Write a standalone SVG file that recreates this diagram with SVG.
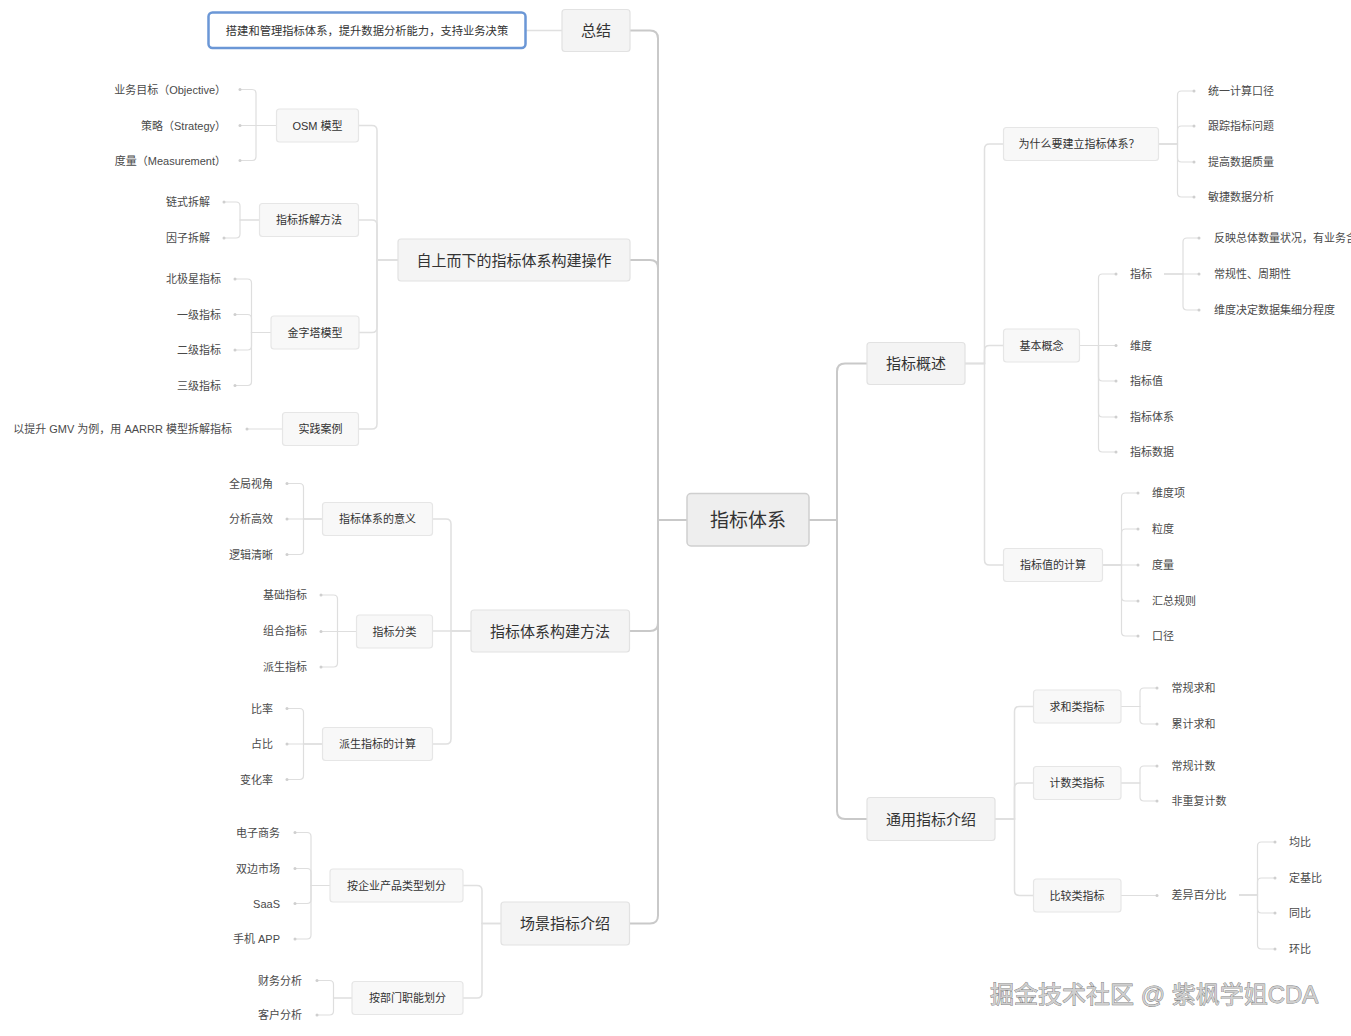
<svg xmlns="http://www.w3.org/2000/svg" width="1351" height="1036" viewBox="0 0 1351 1036">
<defs>
<marker id="dot" markerUnits="userSpaceOnUse" markerWidth="5" markerHeight="5" refX="2.5" refY="2.5"><circle cx="2.5" cy="2.5" r="1.5" fill="#cfcfcf"/></marker>
<style>
text{font-family:"Liberation Sans","Noto Sans CJK SC",sans-serif;dominant-baseline:central}
.trunk{fill:none;stroke:#c9c9c9;stroke-width:2}
.branch{fill:none;stroke:#e0e0e0;stroke-width:1.5}
.leaf{fill:none;stroke:#dedede;stroke-width:1.2;marker-end:url(#dot)}
.root rect{fill:#eeeeee;stroke:#cfcfcf;stroke-width:1.5}
.root text{font-size:19px;fill:#333;text-anchor:middle}
.l1 rect{fill:#f4f4f4;stroke:#e2e2e2;stroke-width:1.2}
.l1 text{font-size:15px;fill:#333;text-anchor:middle}
.l2 rect{fill:#f8f8f8;stroke:#e6e6e6;stroke-width:1.2}
.l2 text{font-size:11px;fill:#333;text-anchor:middle}
.sum rect{fill:#ffffff;stroke:#6b97d6;stroke-width:2.5}
.sum text{font-size:11.3px;fill:#333;text-anchor:middle}
.lfL{font-size:11px;fill:#4a4a4a;text-anchor:end}
.lfR{font-size:11px;fill:#4a4a4a;text-anchor:start}
.wm{font-size:24px;fill:#cfcfcf;stroke:#7a7a7a;stroke-width:0.8;paint-order:stroke}
</style>
</defs>
<rect width="1351" height="1036" fill="#ffffff"/>
<g id="connectors">
<path class="trunk" d="M687 520H658V38.5Q658 30.5 650 30.5H630"/>
<path class="trunk" d="M687 520H658V268Q658 260 650 260H630"/>
<path class="trunk" d="M687 520H658V623Q658 631 650 631H630"/>
<path class="trunk" d="M687 520H658V915.5Q658 923.5 650 923.5H630"/>
<path class="trunk" d="M809 520H837V371.5Q837 363.5 845 363.5H867"/>
<path class="trunk" d="M809 520H837V811Q837 819 845 819H867"/>
<path class="branch" d="M562 30.5H526"/>
<path class="branch" d="M398 260H377V130.5Q377 125.5 372 125.5H359"/>
<path class="branch" d="M398 260H377V225Q377 220 372 220H359"/>
<path class="branch" d="M398 260H377V327.5Q377 332.5 372 332.5H359"/>
<path class="branch" d="M398 260H377V424Q377 429 372 429H359"/>
<path class="branch" d="M471 631H451V524Q451 519 446 519H432.5"/>
<path class="branch" d="M471 631H432.5"/>
<path class="branch" d="M471 631H451V739Q451 744 446 744H432.5"/>
<path class="branch" d="M501 923.5H482V890.5Q482 885.5 477 885.5H463"/>
<path class="branch" d="M501 923.5H482V993Q482 998 477 998H463"/>
<path class="branch" d="M965 363.5H984.5V149Q984.5 144 989.5 144H1003.5"/>
<path class="branch" d="M965 363.5H984.5V350.5Q984.5 345.5 989.5 345.5H1003.5"/>
<path class="branch" d="M965 363.5H984.5V560Q984.5 565 989.5 565H1003.5"/>
<path class="branch" d="M995 819H1014.5V711.5Q1014.5 706.5 1019.5 706.5H1033.5"/>
<path class="branch" d="M995 819H1014.5V788Q1014.5 783 1019.5 783H1033.5"/>
<path class="branch" d="M995 819H1014.5V890.5Q1014.5 895.5 1019.5 895.5H1033.5"/>
<path class="leaf" d="M276.5 125.5H256V93.5Q256 89.5 252 89.5H240"/>
<path class="leaf" d="M276.5 125.5H240"/>
<path class="leaf" d="M276.5 125.5H256V156.5Q256 160.5 252 160.5H240"/>
<path class="leaf" d="M259.5 220H240V206Q240 202 236 202H224"/>
<path class="leaf" d="M259.5 220H240V234Q240 238 236 238H224"/>
<path class="leaf" d="M271 332.5H251.5V283Q251.5 279 247.5 279H235"/>
<path class="leaf" d="M271 332.5H251.5V318.5Q251.5 314.5 247.5 314.5H235"/>
<path class="leaf" d="M271 332.5H251.5V346Q251.5 350 247.5 350H235"/>
<path class="leaf" d="M271 332.5H251.5V381.5Q251.5 385.5 247.5 385.5H235"/>
<path class="leaf" d="M282.5 429H247"/>
<path class="leaf" d="M322.5 519H303.5V487.5Q303.5 483.5 299.5 483.5H287"/>
<path class="leaf" d="M322.5 519H287"/>
<path class="leaf" d="M322.5 519H303.5V550.5Q303.5 554.5 299.5 554.5H287"/>
<path class="leaf" d="M356.5 631.5H337.5V599Q337.5 595 333.5 595H321"/>
<path class="leaf" d="M356.5 631.5H321"/>
<path class="leaf" d="M356.5 631.5H337.5V663Q337.5 667 333.5 667H321"/>
<path class="leaf" d="M322.5 744H303.5V712.5Q303.5 708.5 299.5 708.5H287"/>
<path class="leaf" d="M322.5 744H287"/>
<path class="leaf" d="M322.5 744H303.5V775.5Q303.5 779.5 299.5 779.5H287"/>
<path class="leaf" d="M330 885.5H311V836.5Q311 832.5 307 832.5H295"/>
<path class="leaf" d="M330 885.5H311V872.5Q311 868.5 307 868.5H295"/>
<path class="leaf" d="M330 885.5H311V899.5Q311 903.5 307 903.5H295"/>
<path class="leaf" d="M330 885.5H311V935Q311 939 307 939H295"/>
<path class="leaf" d="M352 998H333.5V984.5Q333.5 980.5 329.5 980.5H317"/>
<path class="leaf" d="M352 998H333.5V1011Q333.5 1015 329.5 1015H317"/>
<path class="leaf" d="M1158.5 144H1177.5V95Q1177.5 91 1181.5 91H1194"/>
<path class="leaf" d="M1158.5 144H1177.5V130Q1177.5 126 1181.5 126H1194"/>
<path class="leaf" d="M1158.5 144H1177.5V158Q1177.5 162 1181.5 162H1194"/>
<path class="leaf" d="M1158.5 144H1177.5V193Q1177.5 197 1181.5 197H1194"/>
<path class="leaf" d="M1079.5 345.5H1098.5V278Q1098.5 274 1102.5 274H1116"/>
<path class="leaf" d="M1079.5 345.5H1116"/>
<path class="leaf" d="M1079.5 345.5H1098.5V377Q1098.5 381 1102.5 381H1116"/>
<path class="leaf" d="M1079.5 345.5H1098.5V413Q1098.5 417 1102.5 417H1116"/>
<path class="leaf" d="M1079.5 345.5H1098.5V448Q1098.5 452 1102.5 452H1116"/>
<path class="leaf" d="M1164 274H1183V242Q1183 238 1187 238H1199"/>
<path class="leaf" d="M1164 274H1199"/>
<path class="leaf" d="M1164 274H1183V306Q1183 310 1187 310H1199"/>
<path class="leaf" d="M1102.5 565H1121.5V497Q1121.5 493 1125.5 493H1138"/>
<path class="leaf" d="M1102.5 565H1121.5V533Q1121.5 529 1125.5 529H1138"/>
<path class="leaf" d="M1102.5 565H1138"/>
<path class="leaf" d="M1102.5 565H1121.5V597Q1121.5 601 1125.5 601H1138"/>
<path class="leaf" d="M1102.5 565H1121.5V632Q1121.5 636 1125.5 636H1138"/>
<path class="leaf" d="M1121 706.5H1140V692Q1140 688 1144 688H1157"/>
<path class="leaf" d="M1121 706.5H1140V720Q1140 724 1144 724H1157"/>
<path class="leaf" d="M1121 783H1140V770Q1140 766 1144 766H1157"/>
<path class="leaf" d="M1121 783H1140V797Q1140 801 1144 801H1157"/>
<path class="leaf" d="M1121 895.5H1157"/>
<path class="leaf" d="M1239 895H1257.5V846Q1257.5 842 1261.5 842H1275"/>
<path class="leaf" d="M1239 895H1257.5V882Q1257.5 878 1261.5 878H1275"/>
<path class="leaf" d="M1239 895H1257.5V909Q1257.5 913 1261.5 913H1275"/>
<path class="leaf" d="M1239 895H1257.5V945Q1257.5 949 1261.5 949H1275"/>
</g>
<g id="node-root" class="root"><rect x="687" y="493.5" width="122" height="52.5" rx="4"/><text x="748" y="520">指标体系</text></g>
<g id="node-zongjie" class="l1"><rect x="562" y="9.5" width="68" height="42" rx="3"/><text x="596" y="30.5">总结</text></g>
<g id="node-summary" class="sum"><rect x="208.5" y="12.5" width="317" height="35.5" rx="4"/><text x="367" y="30.5">搭建和管理指标体系，提升数据分析能力，支持业务决策</text></g>
<g id="node-topdown" class="l1"><rect x="398" y="239" width="232" height="42" rx="3"/><text x="514" y="260">自上而下的指标体系构建操作</text></g>
<g id="node-osm" class="l2"><rect x="276.5" y="109" width="82" height="33" rx="3"/><text x="317.5" y="125.5">OSM 模型</text></g>
<g id="node-chaijie" class="l2"><rect x="259.5" y="203.5" width="99" height="33" rx="3"/><text x="309" y="220">指标拆解方法</text></g>
<g id="node-pyramid" class="l2"><rect x="271" y="316" width="88" height="33" rx="3"/><text x="315" y="332.5">金字塔模型</text></g>
<g id="node-case" class="l2"><rect x="282.5" y="412.5" width="76" height="33" rx="3"/><text x="320.5" y="429">实践案例</text></g>
<g id="node-method" class="l1"><rect x="471" y="610" width="158.5" height="42" rx="3"/><text x="550" y="631">指标体系构建方法</text></g>
<g id="node-meaning" class="l2"><rect x="322.5" y="502.5" width="110" height="33" rx="3"/><text x="377.5" y="519">指标体系的意义</text></g>
<g id="node-category" class="l2"><rect x="356.5" y="615" width="76" height="33" rx="3"/><text x="394.5" y="631.5">指标分类</text></g>
<g id="node-derived" class="l2"><rect x="322.5" y="727.5" width="110" height="33" rx="3"/><text x="377.5" y="744">派生指标的计算</text></g>
<g id="node-scene" class="l1"><rect x="501" y="902" width="128.5" height="43" rx="3"/><text x="565" y="923.5">场景指标介绍</text></g>
<g id="node-product" class="l2"><rect x="330" y="869" width="133" height="33" rx="3"/><text x="396.5" y="885.5">按企业产品类型划分</text></g>
<g id="node-dept" class="l2"><rect x="352" y="981.5" width="111" height="33" rx="3"/><text x="407.5" y="998">按部门职能划分</text></g>
<g id="node-overview" class="l1"><rect x="867" y="342.5" width="98" height="42" rx="3"/><text x="916" y="363.5">指标概述</text></g>
<g id="node-why" class="l2"><rect x="1003.5" y="127.5" width="155" height="33" rx="3"/><text x="1079" y="144">为什么要建立指标体系？</text></g>
<g id="node-basic" class="l2"><rect x="1003.5" y="329" width="76" height="33" rx="3"/><text x="1041.5" y="345.5">基本概念</text></g>
<g id="node-calc" class="l2"><rect x="1003.5" y="548.5" width="99" height="33" rx="3"/><text x="1053" y="565">指标值的计算</text></g>
<g id="node-common" class="l1"><rect x="867" y="797.5" width="128" height="43" rx="3"/><text x="931" y="819">通用指标介绍</text></g>
<g id="node-sum" class="l2"><rect x="1033.5" y="690" width="87.5" height="33" rx="3"/><text x="1077" y="706.5">求和类指标</text></g>
<g id="node-count" class="l2"><rect x="1033.5" y="766.5" width="87.5" height="33" rx="3"/><text x="1077" y="783">计数类指标</text></g>
<g id="node-compare" class="l2"><rect x="1033.5" y="879" width="87.5" height="33" rx="3"/><text x="1077" y="895.5">比较类指标</text></g>
<g id="leaves-left">
<text class="lfL" x="226" y="89.5">业务目标（Objective）</text>
<text class="lfL" x="226" y="125.5">策略（Strategy）</text>
<text class="lfL" x="226" y="160.5">度量（Measurement）</text>
<text class="lfL" x="210" y="202">链式拆解</text>
<text class="lfL" x="210" y="238">因子拆解</text>
<text class="lfL" x="221" y="279">北极星指标</text>
<text class="lfL" x="221" y="314.5">一级指标</text>
<text class="lfL" x="221" y="350">二级指标</text>
<text class="lfL" x="221" y="385.5">三级指标</text>
<text class="lfL" x="232" y="429">以提升 GMV 为例，用 AARRR 模型拆解指标</text>
<text class="lfL" x="273" y="483.5">全局视角</text>
<text class="lfL" x="273" y="519">分析高效</text>
<text class="lfL" x="273" y="554.5">逻辑清晰</text>
<text class="lfL" x="307" y="595">基础指标</text>
<text class="lfL" x="307" y="631">组合指标</text>
<text class="lfL" x="307" y="667">派生指标</text>
<text class="lfL" x="273" y="708.5">比率</text>
<text class="lfL" x="273" y="744">占比</text>
<text class="lfL" x="273" y="779.5">变化率</text>
<text class="lfL" x="280" y="832.5">电子商务</text>
<text class="lfL" x="280" y="868.5">双边市场</text>
<text class="lfL" x="280" y="903.5">SaaS</text>
<text class="lfL" x="280" y="939">手机 APP</text>
<text class="lfL" x="302" y="980.5">财务分析</text>
<text class="lfL" x="302" y="1015">客户分析</text>
</g>
<g id="leaves-right">
<text class="lfR" x="1208" y="91">统一计算口径</text>
<text class="lfR" x="1208" y="126">跟踪指标问题</text>
<text class="lfR" x="1208" y="162">提高数据质量</text>
<text class="lfR" x="1208" y="197">敏捷数据分析</text>
<text class="lfR" x="1130" y="274">指标</text>
<text class="lfR" x="1130" y="346">维度</text>
<text class="lfR" x="1130" y="381">指标值</text>
<text class="lfR" x="1130" y="417">指标体系</text>
<text class="lfR" x="1130" y="452">指标数据</text>
<text class="lfR" x="1214" y="238">反映总体数量状况，有业务含义</text>
<text class="lfR" x="1214" y="274">常规性、周期性</text>
<text class="lfR" x="1214" y="310">维度决定数据集细分程度</text>
<text class="lfR" x="1152" y="493">维度项</text>
<text class="lfR" x="1152" y="529">粒度</text>
<text class="lfR" x="1152" y="565">度量</text>
<text class="lfR" x="1152" y="601">汇总规则</text>
<text class="lfR" x="1152" y="636">口径</text>
<text class="lfR" x="1171.5" y="688">常规求和</text>
<text class="lfR" x="1171.5" y="724">累计求和</text>
<text class="lfR" x="1171.5" y="766">常规计数</text>
<text class="lfR" x="1171.5" y="801">非重复计数</text>
<text class="lfR" x="1171.5" y="895">差异百分比</text>
<text class="lfR" x="1289" y="842">均比</text>
<text class="lfR" x="1289" y="878">定基比</text>
<text class="lfR" x="1289" y="913">同比</text>
<text class="lfR" x="1289" y="949">环比</text>
</g>
<text class="wm" x="990" y="994.5">掘金技术社区 @ 紫枫学姐CDA</text>
</svg>
